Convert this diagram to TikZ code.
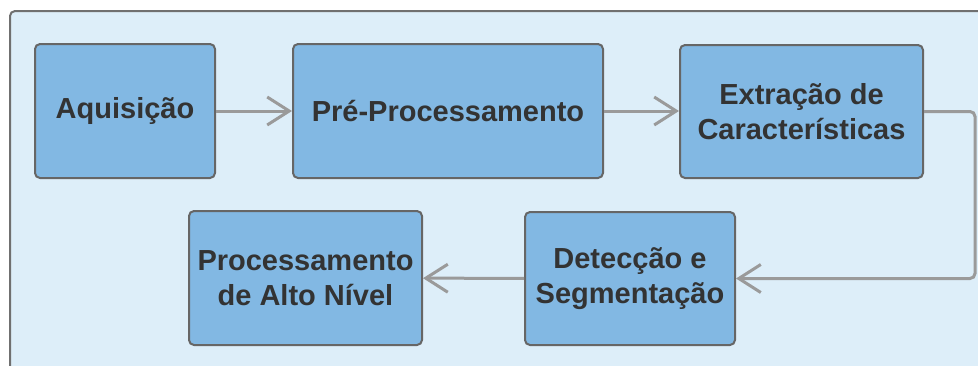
\documentclass[tikz,border=0pt]{standalone}
\usepackage{fontspec}
\setmainfont{Liberation Sans}
\usetikzlibrary{arrows.meta}
\definecolor{panelfill}{HTML}{DDEEF9}
\definecolor{panelline}{HTML}{707070}
\definecolor{boxfill}{HTML}{82B8E3}
\definecolor{boxline}{HTML}{666666}
\definecolor{textgray}{HTML}{333333}
\definecolor{flowgray}{HTML}{9A9A9A}
\begin{document}
\begin{tikzpicture}[x=1pt,y=-1pt,
  stage/.style={draw=boxline, line width=2pt, fill=boxfill, rounded corners=5pt,
    text=textgray, font=\fontsize{29}{35}\selectfont\bfseries, align=center,
    inner sep=0pt},
  flow/.style={draw=flowgray, line width=3pt,
    -{Straight Barb[length=22pt,width=28pt,line width=3pt]}}]
\useasboundingbox (0,0) rectangle (978,365);
\begin{scope}
\clip (0,0) rectangle (978,365);
\draw [draw=panelline, line width=2pt, fill=panelfill, rounded corners=5pt] (10,11) rectangle (995,380);% Panel
\end{scope}
% Top row
\node [stage, minimum width=180pt, minimum height=134pt] (acq) at (125,111) {Aquisição};
\node [stage, minimum width=310pt, minimum height=134pt] (pre) at (448,111) {Pré-Processamento};
\node [stage, minimum width=243pt, minimum height=133pt] (ext) at (801.5,111.5) {Extração de\\Características};
% Bottom row
\node [stage, minimum width=210pt, minimum height=133pt] (det) at (630,278.5) {Detecção e\\Segmentação};
\node [stage, minimum width=233pt, minimum height=134pt] (alto) at (305.5,278) {Processamento\\de Alto Nível};
\coordinate (turn) at (975,0);
\draw [flow] (acq) -- (pre);
\draw [flow] (pre) -- (pre -| ext.west);
\draw [flow, rounded corners=5pt] (ext.east) -- (ext.east -| turn) -- (det.east -| turn) -- (det.east);
\draw [flow] (det) -- (alto);
\end{tikzpicture}
\end{document}
